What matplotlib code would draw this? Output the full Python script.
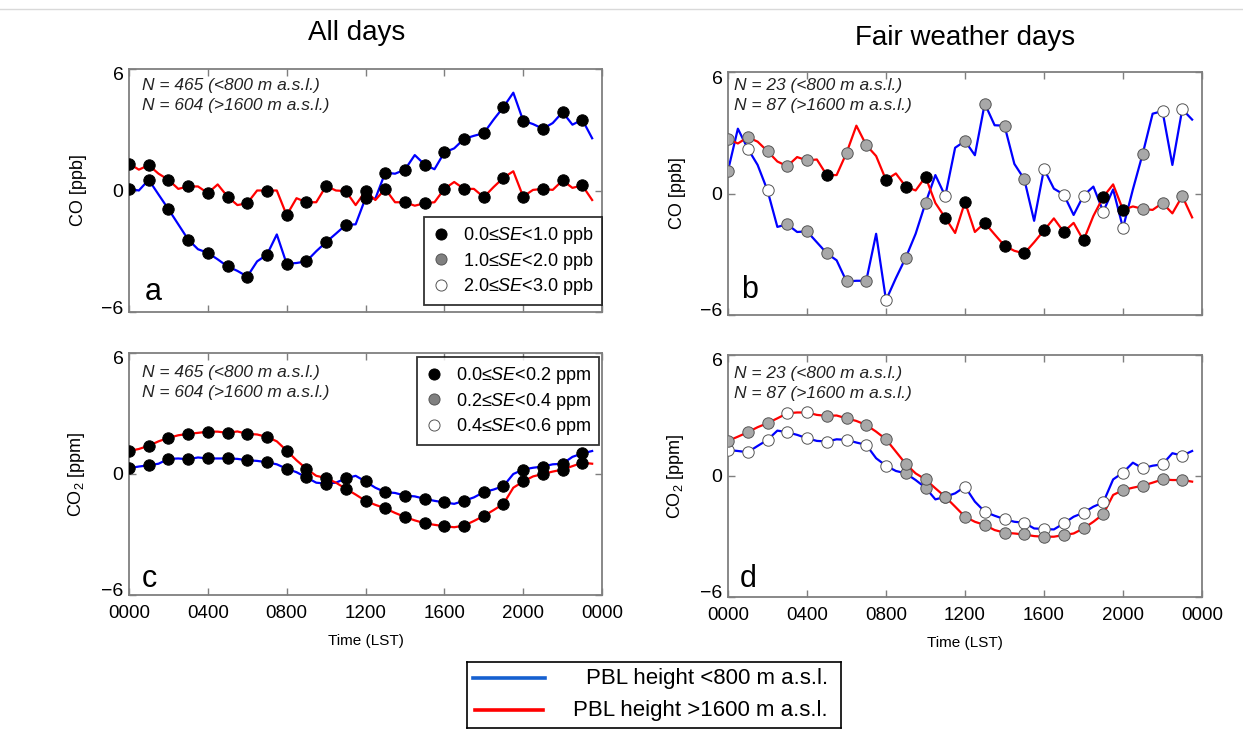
import numpy as np
import matplotlib
matplotlib.use("Agg")
import matplotlib.pyplot as plt
import matplotlib.transforms as mtransforms
from matplotlib.lines import Line2D

plt.rcParams['font.family'] = ['Liberation Sans', 'DejaVu Sans']
plt.rcParams['mathtext.fontset'] = 'custom'
plt.rcParams['mathtext.rm'] = 'Liberation Sans'
plt.rcParams['mathtext.it'] = 'Liberation Sans:italic'

# ---------------- data ----------------
hours = np.arange(0, 24, 0.5)          # half-hourly values, dots at whole hours
tick_hours = [0, 4, 8, 12, 16, 20, 24]
tick_labels = ["0000", "0400", "0800", "1200", "1600", "2000", "0000"]

co_all_low = [0.08, 0.0, 0.53, -0.2, -0.92, -1.67, -2.42, -2.9, -3.08, -3.4, -3.75, -3.97,
              -4.25, -3.5, -3.17, -2.17, -3.62, -3.58, -3.5, -3.0, -2.55, -2.13, -1.7, -1.67,
              -0.38, -0.4, 0.88, 0.83, 1.03, 1.75, 1.28, 1.05, 1.88, 2.08, 2.55, 2.7,
              2.83, 3.5, 4.12, 4.83, 3.45, 3.28, 3.05, 3.33, 3.87, 3.25, 3.5, 2.58]
co_all_high = [1.33, 1.03, 1.25, 0.83, 0.53, 0.08, 0.2, 0.2, -0.13, 0.3, -0.3, -0.72,
               -0.63, 0.0, 0.0, 0.0, -1.22, -0.38, -0.58, -0.58, 0.22, 0.0, -0.03, -0.72,
               -0.03, -0.47, 0.08, -0.58, -0.58, -0.75, -0.63, -0.58, 0.08, 0.42, 0.08, 0.08,
               -0.33, 0.17, 0.63, 0.95, -0.3, 0.03, 0.08, 0.03, 0.5, 0.13, 0.25, -0.47]
co_fair_low = [1.13, 3.2, 2.22, 1.41, 0.15, -1.65, -1.52, -1.9, -1.87, -2.41, -2.95, -3.3,
               -4.34, -4.31, -4.31, -1.99, -5.27, -4.18, -3.17, -1.99, -0.47, 0.91, -0.13, 2.26,
               2.59, 1.89, 4.44, 3.37, 3.35, 1.46, 0.71, -1.35, 1.21, 0.24, -0.05, -1.06,
               -0.1, 0.34, -0.89, 0.2, -1.7, 0.2, 1.97, 3.94, 4.07, 1.41, 4.16, 3.65]
co_fair_high = [2.69, 2.47, 2.78, 2.56, 2.09, 1.58, 1.35, 1.8, 1.63, 1.68, 0.91, 0.91,
                2.0, 3.35, 2.39, 1.85, 0.67, 0.99, 0.34, 0.15, 0.82, -0.47, -1.2, -1.95,
                -0.42, -1.9, -1.45, -2.02, -2.58, -2.83, -2.96, -2.41, -1.82, -1.23, -1.9, -1.45,
                -2.32, -1.11, -0.17, 0.45, -0.81, -0.64, -0.76, -0.81, -0.47, -0.98, -0.13, -1.18]
co2_all_low = [0.29, 0.37, 0.43, 0.51, 0.75, 0.77, 0.73, 0.82, 0.77, 0.77, 0.77, 0.75,
               0.68, 0.65, 0.58, 0.48, 0.26, 0.09, -0.17, -0.43, -0.48, -0.43, -0.22, -0.09,
               -0.37, -0.68, -0.9, -0.94, -1.07, -1.11, -1.23, -1.33, -1.41, -1.48, -1.33, -1.16,
               -0.9, -0.77, -0.6, 0.0, 0.22, 0.31, 0.37, 0.48, 0.51, 0.85, 1.02, 1.14]
co2_all_high = [1.14, 1.24, 1.4, 1.62, 1.79, 1.92, 1.99, 2.04, 2.1, 2.1, 2.04, 2.11,
                1.99, 1.96, 1.84, 1.62, 1.16, 0.68, 0.26, -0.09, -0.2, -0.43, -0.73, -1.02,
                -1.33, -1.53, -1.7, -1.93, -2.13, -2.3, -2.44, -2.52, -2.59, -2.64, -2.56, -2.33,
                -2.08, -1.79, -1.48, -0.68, -0.37, -0.12, 0.0, 0.12, 0.22, 0.39, 0.56, 0.51]
co2_fair_low = [1.29, 1.24, 1.18, 1.49, 1.79, 2.25, 2.17, 2.04, 1.87, 1.74, 1.71, 1.82,
                1.79, 1.66, 1.54, 0.88, 0.51, 0.25, 0.13, -0.2, -0.58, -1.16, -1.03, -0.86,
                -0.53, -1.27, -1.77, -1.97, -2.14, -2.27, -2.32, -2.6, -2.63, -2.65, -2.35, -2.02,
                -1.82, -1.52, -1.31, -0.17, 0.17, 0.66, 0.38, 0.51, 0.58, 1.13, 1.01, 1.24]
co2_fair_high = [1.74, 1.95, 2.17, 2.42, 2.62, 2.86, 3.11, 3.15, 3.15, 3.03, 2.98, 3.0,
                 2.86, 2.73, 2.53, 2.2, 1.82, 1.21, 0.6, 0.13, -0.17, -0.61, -1.03, -1.52,
                 -2.02, -2.27, -2.43, -2.68, -2.81, -2.85, -2.9, -2.98, -3.01, -3.01, -2.93, -2.85,
                 -2.6, -2.27, -1.89, -0.94, -0.7, -0.58, -0.48, -0.33, -0.17, -0.2, -0.2, -0.28]

# standard-error class of each hourly dot: 0 = lowest, 1 = middle, 2 = highest
se_all = [0] * 24
se_b_low = [1, 2, 2, 1, 1, 1, 1, 1, 2, 1, 1, 2, 1, 1, 1, 1, 2, 2, 2, 2, 2, 1, 2, 2]
se_b_high = [1, 1, 1, 1, 1, 0, 1, 1, 0, 0, 0, 0, 0, 0, 0, 0, 0, 0, 0, 0, 0, 1, 1, 1]
se_d_low = [2, 2, 2, 2, 2, 2, 2, 2, 2, 1, 1, 1, 2, 2, 2, 2, 2, 2, 2, 2, 2, 2, 2, 2]
se_d_high = [1, 1, 1, 2, 2, 1, 1, 1, 1, 1, 1, 1, 1, 1, 1, 1, 1, 1, 1, 1, 1, 1, 1, 1]

co_se_labels = ["0.0≤$\\mathit{SE}$<1.0 ppb", "1.0≤$\\mathit{SE}$<2.0 ppb", "2.0≤$\\mathit{SE}$<3.0 ppb"]
co2_se_labels = ["0.0≤$\\mathit{SE}$<0.2 ppm", "0.2≤$\\mathit{SE}$<0.4 ppm", "0.4≤$\\mathit{SE}$<0.6 ppm"]
legend_labels = ["PBL height <800 m a.s.l.", "PBL height >1600 m a.s.l."]

# ---------------- style ----------------
BLUE = '#0000ff'
RED = '#ff0000'
SE_FACE = ['#000000', '#a8a8a8', '#ffffff']
SE_EDGE = ['#000000', '#555555', '#555555']
SPINE = '#7f7f7f'

W, H = 1243, 736
fig = plt.figure(figsize=(W / 100, H / 100), dpi=100)


def rect(l, t, r, b):
    return [l / W, 1 - b / H, (r - l) / W, (b - t) / H]


def draw_panel(pos, low, high, se_low, se_high, ylabel, ntext, letter, text_off, letter_off,
               show_x):
    ax = fig.add_axes(pos)
    ax.plot(hours, low, color=BLUE, lw=1.6, zorder=2)
    ax.plot(hours, high, color=RED, lw=1.6, zorder=2)
    hx = hours[::2]
    for vals, se in ((low, se_low), (high, se_high)):
        v = np.asarray(vals)[::2]
        se = np.asarray(se)
        for k in range(3):
            m = se == k
            if m.any():
                ax.plot(hx[m], v[m], 'o', ls='none', ms=8.2, mfc=SE_FACE[k], mec=SE_EDGE[k],
                        mew=0.7, zorder=3)
    ax.set_xlim(0, 24)
    ax.set_ylim(-6, 6)
    ax.set_xticks(tick_hours)
    if show_x:
        ax.set_xticklabels(tick_labels)
    else:
        ax.set_xticklabels([])
    ax.set_yticks([-6, 0, 6])
    ax.tick_params(direction='in', length=5, width=1, color=SPINE, top=True, right=True,
                   labelsize=14, pad=4)
    ax.tick_params(axis='x', labelsize=13.5, pad=7.5)
    # pull the end y labels slightly inward, as in the original
    labs = ax.get_yticklabels()
    labs[0].set_transform(labs[0].get_transform() +
                          mtransforms.ScaledTranslation(0, 5 / 100, fig.dpi_scale_trans))
    labs[-1].set_transform(labs[-1].get_transform() +
                           mtransforms.ScaledTranslation(0, -5 / 100, fig.dpi_scale_trans))
    for s in ax.spines.values():
        s.set_color(SPINE)
        s.set_linewidth(1.3)
    ax.set_ylabel(ylabel, fontsize=13)
    ax.yaxis.set_label_coords(-0.088, 0.5)
    ax.text(text_off[0], text_off[1], ntext, transform=ax.transAxes, style='italic',
            fontsize=12.5, va='top', ha='left', linespacing=1.45, color='#222222')
    ax.text(letter_off[0], letter_off[1], letter, transform=ax.transAxes, fontsize=22,
            va='baseline', ha='left')
    return ax


def se_handles(face, edge):
    return [Line2D([], [], ls='none', marker='o', ms=8, mfc=face[k], mec=edge[k], mew=0.7)
            for k in range(3)]


n_all = "N = 465 (<800 m a.s.l.)\nN = 604 (>1600 m a.s.l.)"
n_fair = "N = 23 (<800 m a.s.l.)\nN = 87 (>1600 m a.s.l.)"

ax_a = draw_panel(rect(129, 69, 602, 312), co_all_low, co_all_high, se_all, se_all,
                  "CO [ppb]", n_all, "a", (0.027, 0.965), (0.034, 0.05), False)
ax_b = draw_panel(rect(728, 72, 1202, 315), co_fair_low, co_fair_high, se_b_low, se_b_high,
                  "CO [ppb]", n_fair, "b", (0.013, 0.975), (0.028, 0.07), False)
ax_c = draw_panel(rect(129, 353, 602, 595), co2_all_low, co2_all_high, se_all, se_all,
                  "CO$_2$ [ppm]", n_all, "c", (0.027, 0.95), (0.028, 0.035), True)
ax_d = draw_panel(rect(728, 355, 1202, 597), co2_fair_low, co2_fair_high, se_d_low, se_d_high,
                  "CO$_2$ [ppm]", n_fair, "d", (0.013, 0.955), (0.025, 0.04), True)

leg_face = ['#000000', '#808080', '#ffffff']
leg_edge = ['#000000', '#555555', '#555555']
for ax, labels, loc, anchor in ((ax_a, co_se_labels, 'lower right', (1.0, 0.028)),
                                (ax_c, co2_se_labels, 'upper right', (0.994, 0.984))):
    lg = ax.legend(se_handles(leg_face, leg_edge), labels, loc=loc, bbox_to_anchor=anchor,
                   borderaxespad=0, fontsize=13, frameon=True, fancybox=False,
                   handlelength=1.0, handletextpad=0.7, labelspacing=0.25,
                   borderpad=0.45)
    lg.get_frame().set_edgecolor('black')
    lg.get_frame().set_linewidth(1.3)
    lg.set_zorder(5)

for ax in (ax_c, ax_d):
    ax.set_xlabel("Time (LST)", fontsize=11)
    ax.xaxis.set_label_coords(0.5, -0.16)

fig.text(357 / W, 1 - 33 / H, "All days", fontsize=20, ha='center', va='center')
fig.text(965 / W, 1 - 38 / H, "Fair weather days", fontsize=20, ha='center', va='center')

# thin rule along the top of the figure
fig.add_artist(Line2D([0, 1], [1 - 9 / H, 1 - 9 / H], transform=fig.transFigure,
                      color='#d9d9d9', lw=1))

# bottom line legend
lax = fig.add_axes(rect(467, 662, 841, 728))
lax.set_xlim(0, 1)
lax.set_ylim(0, 1)
lax.set_xticks([])
lax.set_yticks([])
for s in lax.spines.values():
    s.set_color('black')
    s.set_linewidth(1.2)
lax.plot([0.016, 0.209], [0.76, 0.76], color='#1560d0', lw=2.6)
lax.plot([0.021, 0.203], [0.27, 0.27], color=RED, lw=2.6)
lax.text(0.965, 0.75, legend_labels[0], ha='right', va='center', fontsize=16)
lax.text(0.965, 0.27, legend_labels[1], ha='right', va='center', fontsize=16)

fig.savefig("out.png", dpi=100)
